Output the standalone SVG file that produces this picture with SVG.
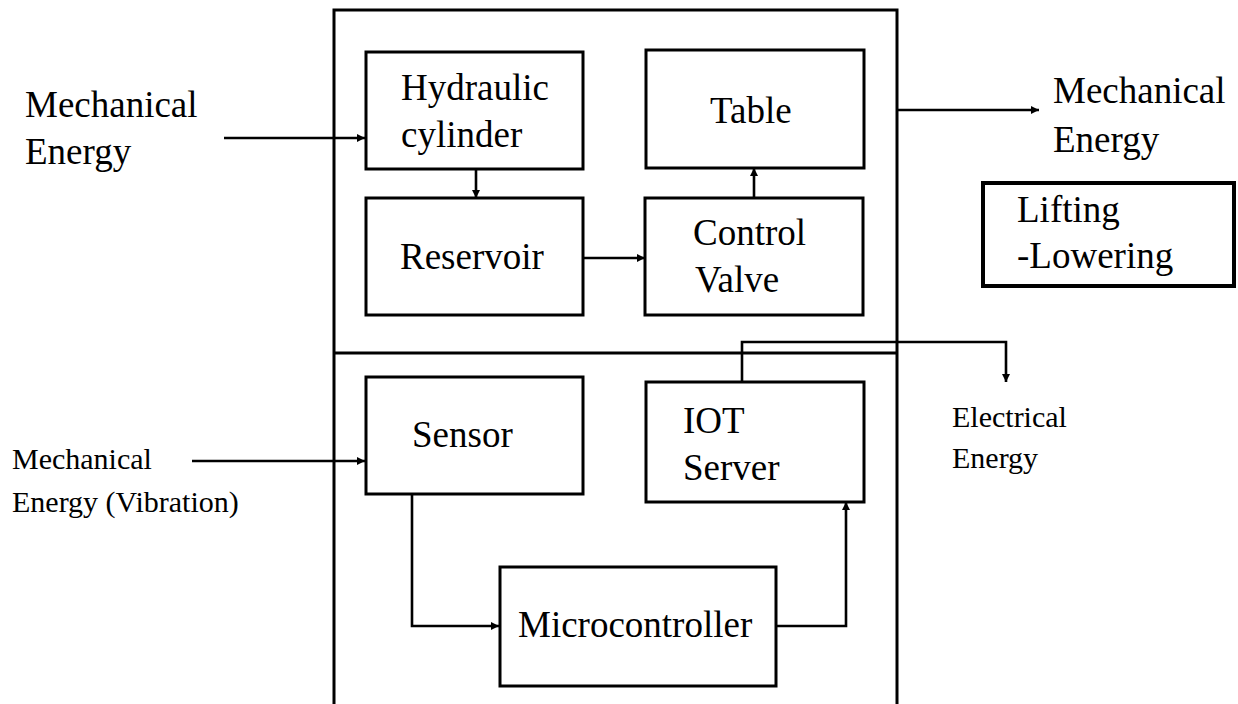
<svg xmlns="http://www.w3.org/2000/svg" width="1238" height="704" viewBox="0 0 1238 704">
  <defs>
    <marker id="arr" viewBox="0 0 10 10" refX="10" refY="5" markerWidth="9" markerHeight="8" markerUnits="userSpaceOnUse" orient="auto">
      <path d="M0,0 L10,5 L0,10 z" fill="#000"/>
    </marker>
    <style>
      .box { fill: #fff; stroke: #000; stroke-width: 3; }
      .frame { fill: none; stroke: #000; stroke-width: 3; }
      .wire { fill: none; stroke: #000; stroke-width: 2.6; }
      .lbl { font-size: 37px; fill: #000; }
      .sm { font-size: 30px; fill: #000; }
    </style>
  </defs>
  <rect width="1238" height="704" fill="#fff"/>

  <!-- system enclosure and its split into hydraulic / electronic halves -->
  <g id="enclosure">
    <rect class="frame" x="334" y="10" width="563" height="720"/>
    <line class="frame" x1="334" y1="353" x2="897" y2="353"/>
  </g>

  <g id="connectors">
    <line class="wire" x1="224" y1="138" x2="365" y2="138" marker-end="url(#arr)"/>
    <line class="wire" x1="476" y1="170" x2="476" y2="198" marker-end="url(#arr)"/>
    <line class="wire" x1="584" y1="258" x2="645" y2="258" marker-end="url(#arr)"/>
    <line class="wire" x1="754" y1="198" x2="754" y2="168" marker-end="url(#arr)"/>
    <line class="wire" x1="897" y1="110" x2="1039" y2="110" marker-end="url(#arr)"/>
    <line class="wire" x1="192" y1="461" x2="365" y2="461" marker-end="url(#arr)"/>
    <polyline class="wire" points="412,495 412,626 499,626" marker-end="url(#arr)"/>
    <polyline class="wire" points="777,626 846,626 846,502" marker-end="url(#arr)"/>
    <polyline class="wire" points="742,382 742,342 1006,342 1006,382" marker-end="url(#arr)"/>
  </g>

  <g font-family="Liberation Serif, Times New Roman, serif">
  <g id="in-mech">
    <text class="lbl" x="25" y="117">Mechanical</text>
    <text class="lbl" x="25" y="164">Energy</text>
  </g>

  <g id="hydraulic-cylinder">
    <rect class="box" x="366" y="52" width="217" height="117"/>
    <text class="lbl" x="401" y="100">Hydraulic</text>
    <text class="lbl" x="401" y="147">cylinder</text>
  </g>

  <g id="reservoir">
    <rect class="box" x="366" y="198" width="217" height="117"/>
    <text class="lbl" x="400" y="269">Reservoir</text>
  </g>

  <g id="table">
    <rect class="box" x="646" y="50" width="218" height="118"/>
    <text class="lbl" x="710" y="123">Table</text>
  </g>

  <g id="control-valve">
    <rect class="box" x="645" y="198" width="218" height="117"/>
    <text class="lbl" x="693" y="245">Control</text>
    <text class="lbl" x="695" y="292">Valve</text>
  </g>

  <g id="out-mech">
    <text class="lbl" x="1053" y="103">Mechanical</text>
    <text class="lbl" x="1053" y="152">Energy</text>
  </g>

  <g id="lifting-lowering">
    <rect class="box" x="983" y="183" width="251" height="103" style="stroke-width:4"/>
    <text class="lbl" x="1017" y="222">Lifting</text>
    <text class="lbl" x="1017" y="268">-Lowering</text>
  </g>

  <g id="in-vibration">
    <text class="sm" x="12" y="469">Mechanical</text>
    <text class="sm" x="12" y="512">Energy (Vibration)</text>
  </g>

  <g id="sensor">
    <rect class="box" x="366" y="377" width="217" height="117"/>
    <text class="lbl" x="412" y="447">Sensor</text>
  </g>

  <g id="iot-server">
    <rect class="box" x="646" y="382" width="218" height="120"/>
    <text class="lbl" x="683" y="433">IOT</text>
    <text class="lbl" x="683" y="480">Server</text>
  </g>

  <g id="microcontroller">
    <rect class="box" x="500" y="567" width="276" height="119"/>
    <text class="lbl" x="518" y="637">Microcontroller</text>
  </g>

  <g id="out-electrical">
    <text class="sm" x="952" y="427">Electrical</text>
    <text class="sm" x="952" y="468">Energy</text>
  </g>
  </g>
</svg>
